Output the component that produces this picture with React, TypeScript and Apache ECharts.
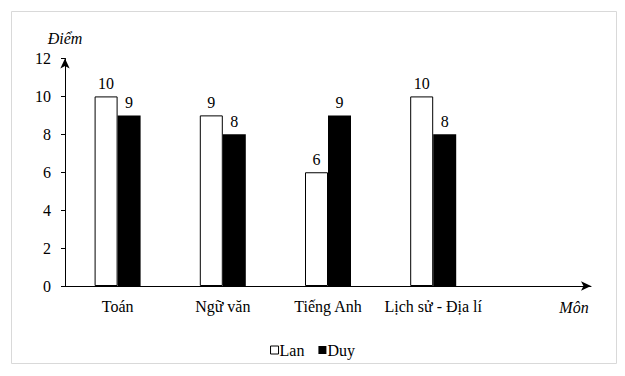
import React, { useEffect, useRef } from "react";
import * as echarts from "echarts";

const categories = ["Toán", "Ngữ văn", "Tiếng Anh", "Lịch sử - Địa lí", ""];
const lanScores = [10, 9, 6, 10, null];
const duyScores = [9, 8, 9, 8, null];
const yTicks = [0, 2, 4, 6, 8, 10, 12];
const seriesNames = ["Lan", "Duy"];

const FONT = "Liberation Serif";

export default function App() {
  const ref = useRef<HTMLDivElement>(null);
  useEffect(() => {
    if (!ref.current) return;
    const chart = echarts.init(ref.current, undefined, { renderer: "svg" });
    const textStyle = { fontFamily: FONT, fontSize: 16, color: "#000" };
    chart.setOption({
      animation: false,
      backgroundColor: "#fff",
      textStyle,
      grid: { left: 65, right: 34, top: 58.5, bottom: 90 },
      legend: {
        data: [
          { name: seriesNames[0], itemStyle: { color: "#fff", borderColor: "#000", borderWidth: 1 } },
          { name: seriesNames[1], itemStyle: { color: "#000" } },
        ],
        left: "center",
        top: 337,
        icon: "rect",
        itemWidth: 8,
        itemHeight: 8,
        itemGap: 14,
        textStyle: { ...textStyle, padding: [0, 0, 0, -4] },
      },
      xAxis: {
        type: "category",
        data: categories,
        axisLine: {
          lineStyle: { color: "#000", width: 1 },
          symbol: ["none", "arrow"],
          symbolSize: [7, 10],
        },
        axisTick: { show: false },
        axisLabel: { ...textStyle, margin: 12, interval: 0 },
        splitLine: { show: false },
      },
      yAxis: {
        type: "value",
        min: yTicks[0],
        max: yTicks[yTicks.length - 1],
        interval: 2,
        axisLine: {
          show: true,
          lineStyle: { color: "#000", width: 1 },
          symbol: ["none", "arrow"],
          symbolSize: [7, 10],
        },
        axisTick: { show: true, length: 4, lineStyle: { color: "#000" } },
        axisLabel: { ...textStyle, margin: 14 },
        splitLine: { show: false },
      },
      graphic: [
        {
          type: "rect",
          shape: { x: 11.5, y: 11.5, width: 605, height: 352 },
          style: { fill: "none", stroke: "#d9d9d9", lineWidth: 1 },
          silent: true,
        },
        {
          type: "text",
          x: 65,
          y: 38,
          style: {
            text: "Điểm",
            fontFamily: FONT,
            fontSize: 16,
            fontStyle: "italic",
            fill: "#000",
            align: "center",
            verticalAlign: "middle",
          },
        },
        {
          type: "text",
          x: 574,
          y: 307,
          style: {
            text: "Môn",
            fontFamily: FONT,
            fontSize: 16,
            fontStyle: "italic",
            fill: "#000",
            align: "center",
            verticalAlign: "middle",
          },
        },
      ],
      series: [
        {
          name: seriesNames[0],
          type: "bar",
          data: lanScores,
          barWidth: 23,
          barGap: "0%",
          itemStyle: { color: "#fff", borderColor: "#000", borderWidth: 1 },
          label: { show: true, position: "top", distance: 5, ...textStyle },
        },
        {
          name: seriesNames[1],
          type: "bar",
          data: duyScores,
          barWidth: 23,
          barGap: "0%",
          itemStyle: { color: "#000" },
          label: { show: true, position: "top", distance: 5, ...textStyle },
        },
      ],
    });
    return () => chart.dispose();
  }, []);
  return (
    <div
      ref={ref}
      style={{ position: "fixed", left: 0, top: 0, width: 625, height: 376 }}
    />
  );
}
